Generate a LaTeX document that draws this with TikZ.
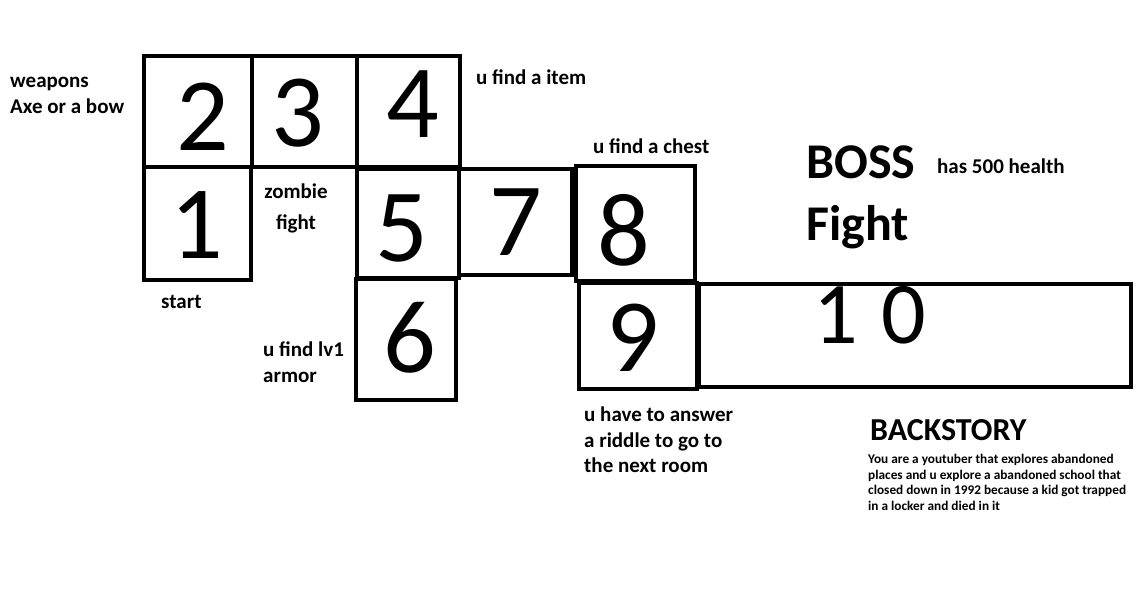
\documentclass[tikz,border=0pt]{standalone}
\usepackage{fontspec}
\setmainfont{Carlito}

\newcommand\notefont{\fontsize{21}{25.5}\selectfont\bfseries}
\newcommand\digitfont{\fontsize{104}{104}\selectfont}

\begin{document}
\begin{tikzpicture}[x=1pt,y=-1pt,
   room/.style={draw,line width=4pt,inner sep=0pt},
   digit/.style={font=\digitfont,inner sep=0pt},
   note/.style={font=\notefont,inner sep=0pt,align=left}]
   \useasboundingbox[fill=white] (0,0) rectangle (1143,589);
   % rooms
   \node[room,minimum width=108,minimum height=111] (room2) at (198,111.5) {};
   \node[room,minimum width=105,minimum height=111] (room3) at (304.5,111.5) {};
   \node[room,minimum width=103,minimum height=111] (room4) at (408.5,111.5) {};
   \node[room,minimum width=107,minimum height=113] (room1) at (197.5,223.5) {};
   \node[room,minimum width=102,minimum height=109] (room5) at (408,223) {};
   \node[room,minimum width=113,minimum height=106.5] (room7) at (515.5,221.75) {};
   \node[room,minimum width=119,minimum height=115] (room8) at (635.5,223.5) {};
   \node[room,minimum width=100,minimum height=121] (room6) at (406,339.5) {};
   \node[room,minimum width=118,minimum height=106] (room9) at (638,336) {};
   \node[room,minimum width=432,minimum height=103] (room10) at (915,335.5) {};
   % numbers
   \node[digit] (d1) at (197,225) {1};
   \node[digit] (d2) at (203,117) {2};
   \node[digit] (d3) at (298,113) {3};
   \node[digit] (d4) at (413,104) {4};
   \node[digit] (d5) at (402,228) {5};
   \node[digit] (d6) at (410,338) {6};
   \node[digit] (d7) at (516,222) {7};
   \node[digit] (d8) at (624,230) {8};
   \node[digit] (d9) at (633,338) {9};
   \node[digit,font=\fontsize{88}{88}\selectfont] (d10) at (870,315) {1\hspace{24pt}0};
   % notes
   \node[note,anchor=west] (weapons) at (10,95.5) {weapons\\Axe or a bow};
   \node[note,anchor=west] (item) at (476,77) {u find a item};
   \node[note,anchor=west] (chest) at (593,146) {u find a chest};
   \node[note,align=center,font=\fontsize{21}{31}\selectfont\bfseries] (zombie) at (296,208) {zombie\\fight};
   \node[note,anchor=west] (start) at (161,302) {start};
   \node[note,anchor=west] (armor) at (263,362) {u find lv1\\armor};
   \node[note,anchor=west] (riddle) at (584,440) {u have to answer\\a riddle to go to\\the next room};
   \node[note,anchor=west] (health) at (937,166) {has 500 health};
   \node[note,anchor=west,font=\fontsize{50}{62}\selectfont\bfseries] (boss) at (806,197) {BOSS\\Fight};
   \node[note,anchor=west,font=\fontsize{32}{32}\selectfont\bfseries] (backstory) at (870,430) {BACKSTORY};
   \node[note,anchor=north west,font=\fontsize{13.3}{15.5}\selectfont\bfseries] (story) at (868,454)
      {You are a youtuber that explores abandoned\\places and u explore a abandoned school that\\closed down in 1992 because a kid got trapped\\in a locker and died in it};
\end{tikzpicture}
\end{document}
